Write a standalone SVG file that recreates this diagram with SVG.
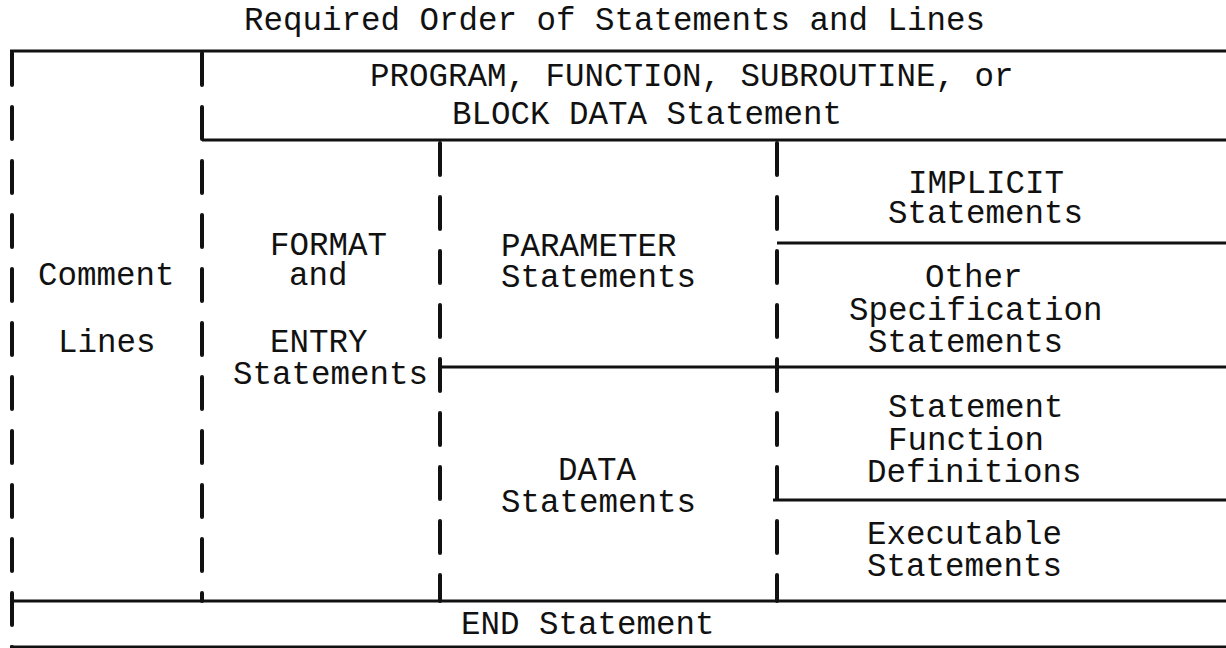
<svg xmlns="http://www.w3.org/2000/svg" width="1226" height="648" viewBox="0 0 1226 648">
<style>
text{font-family:"Liberation Mono","DejaVu Sans Mono",monospace;font-size:32.5px;fill:#111}
.h{stroke:#111;stroke-width:3;fill:none}
.v{stroke:#111;stroke-width:4;fill:none;stroke-dasharray:32 22;stroke-linecap:round}
</style>
<rect width="1226" height="648" fill="#fff"/>
<text id="title" x="244" y="30">Required Order of Statements and Lines</text>
<g id="grid">
<line class="h" x1="10" y1="51" x2="1226" y2="51"/>
<line class="h" x1="202" y1="140" x2="1226" y2="140"/>
<line class="h" x1="777" y1="243" x2="1226" y2="243"/>
<line class="h" x1="440" y1="367" x2="1226" y2="367"/>
<line class="h" x1="773" y1="500" x2="1226" y2="500"/>
<line class="h" x1="10" y1="601" x2="1226" y2="601"/>
<line class="h" x1="10" y1="647" x2="1226" y2="647"/>
<line class="v" x1="12" y1="53" x2="12" y2="648"/>
<line class="v" x1="202" y1="53" x2="202" y2="601"/>
<line class="v" x1="440" y1="143" x2="440" y2="601"/>
<line class="v" x1="777" y1="143" x2="777" y2="601"/>
</g>
<g id="header">
<text x="370" y="86">PROGRAM, FUNCTION, SUBROUTINE, or</text>
<text x="452" y="124">BLOCK DATA Statement</text>
</g>
<g id="comment">
<text x="38" y="285">Comment</text>
<text x="58" y="352">Lines</text>
</g>
<g id="format">
<text x="270" y="255">FORMAT</text>
<text x="289" y="285">and</text>
<text x="270" y="352">ENTRY</text>
<text x="233" y="384">Statements</text>
</g>
<g id="parameter">
<text x="501" y="256">PARAMETER</text>
<text x="501" y="287">Statements</text>
</g>
<g id="data">
<text x="558" y="480">DATA</text>
<text x="501" y="512">Statements</text>
</g>
<g id="implicit">
<text x="908" y="193">IMPLICIT</text>
<text x="888" y="223">Statements</text>
</g>
<g id="other">
<text x="925" y="287">Other</text>
<text x="849" y="320">Specification</text>
<text x="868" y="352">Statements</text>
</g>
<g id="stmtfunc">
<text x="888" y="417">Statement</text>
<text x="888" y="450">Function</text>
<text x="867" y="482">Definitions</text>
</g>
<g id="exec">
<text x="867" y="544">Executable</text>
<text x="867" y="576">Statements</text>
</g>
<g id="end">
<text x="461" y="634">END Statement</text>
</g>
</svg>
